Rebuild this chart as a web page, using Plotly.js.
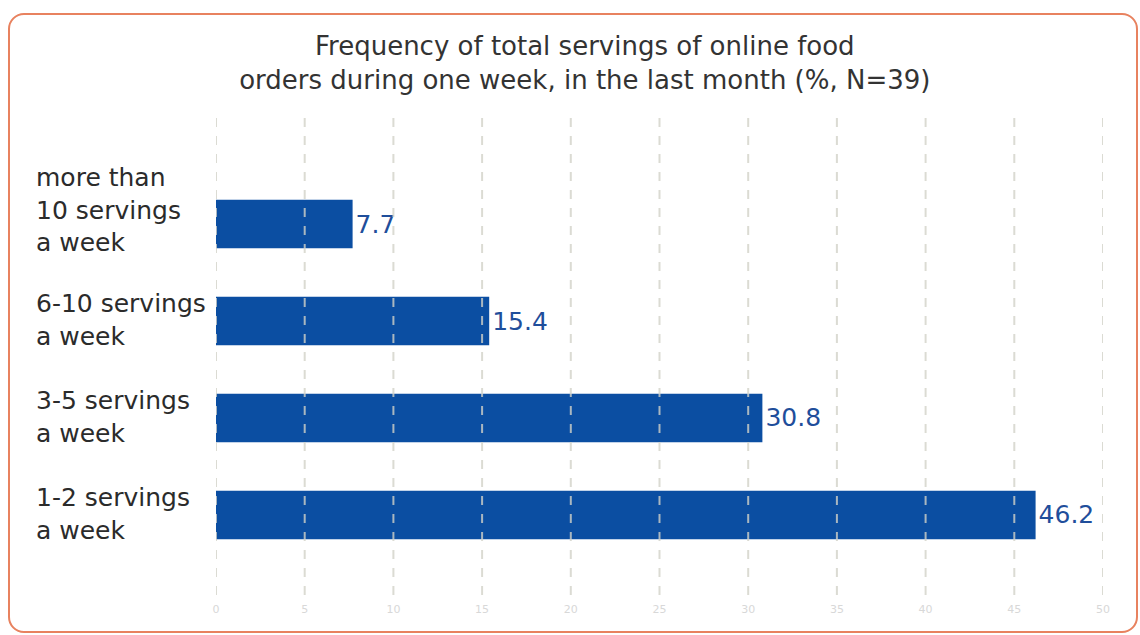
<!DOCTYPE html>
<html>
<head>
<meta charset="utf-8">
<script src="https://cdn.plot.ly/plotly-3.0.1.min.js"></script>
<style>
  html, body { margin: 0; padding: 0; background: #fff; }
  #wrap { position: relative; width: 1140px; height: 635px; overflow: hidden; }
  #chart { position: absolute; left: 0; top: 0; width: 1140px; height: 635px; }
  #frame { position: absolute; left: 8px; top: 13px; width: 1126px; height: 616px;
           border: 2.5px solid #e8825f; border-radius: 16px; pointer-events: none; }
</style>
</head>
<body>
<div id="wrap">
  <div id="chart"></div>
  <div id="frame"></div>
</div>
<script>
// Data (bottom to top)
const categories = [
  "1-2 servings<br>a week",
  "3-5 servings<br>a week",
  "6-10 servings<br>a week",
  "more than<br>10 servings<br>a week"
];
const values = [46.2, 30.8, 15.4, 7.7];
const tickValues = [0, 5, 10, 15, 20, 25, 30, 35, 40, 45, 50];
const titleText = "Frequency of total servings of online food<br>orders during one week, in the last month (%, N=39)";

const FONT = "'DejaVu Sans', sans-serif";
const BAR = "#0b4ea2";
const LABEL = "#1f4e9b";

const trace = {
  type: "bar",
  orientation: "h",
  y: categories,
  x: values,
  marker: { color: BAR },
  text: values.map(v => v.toFixed(1)),
  textposition: "outside",
  cliponaxis: false,
  textfont: { family: FONT, size: 25, color: LABEL },
  hoverinfo: "none"
};

const gridShapes = tickValues.map(v => ({
  type: "line", xref: "x", yref: "paper",
  x0: v, x1: v, y0: 0, y1: 1,
  line: { color: "rgba(210,210,200,0.8)", width: 2, dash: "dash" },
  layer: "above"
}));

const catAnnotations = categories.map(c => {
  const lines = c.split("<br>").length;
  return {
    xref: "paper", yref: "y", x: -0.205, y: c,
    xanchor: "left", yanchor: "middle", align: "left",
    text: c, showarrow: false,
    yshift: lines > 2 ? 14 : 1,
    font: { family: FONT, size: 25, color: "#2b2b2b" }
  };
});

const layout = {
  width: 1140, height: 635,
  margin: { l: 216, r: 37, t: 112, b: 40 },
  paper_bgcolor: "rgba(0,0,0,0)",
  plot_bgcolor: "#ffffff",
  font: { family: FONT },
  title: {
    text: titleText,
    font: { family: FONT, size: 26, color: "#333333" },
    x: 0.513, xanchor: "center",
    y: 0.913, yanchor: "top"
  },
  showlegend: false,
  bargap: 0.5,
  xaxis: {
    range: [0, 50],
    tickvals: tickValues,
    ticktext: tickValues.map(String),
    showgrid: false, zeroline: false, showline: false,
    ticks: "",
    ticklabelstandoff: 6,
    tickfont: { family: FONT, size: 11, color: "#d8d8d8" },
    fixedrange: true
  },
  yaxis: {
    type: "category",
    categoryorder: "array",
    categoryarray: categories,
    range: [-0.825, 4.155],
    showticklabels: false,
    showgrid: false, zeroline: false, showline: false,
    ticks: "",
    fixedrange: true
  },
  shapes: gridShapes,
  annotations: catAnnotations
};

Plotly.newPlot("chart", [trace], layout, { displayModeBar: false, staticPlot: true });
</script>
</body>
</html>
